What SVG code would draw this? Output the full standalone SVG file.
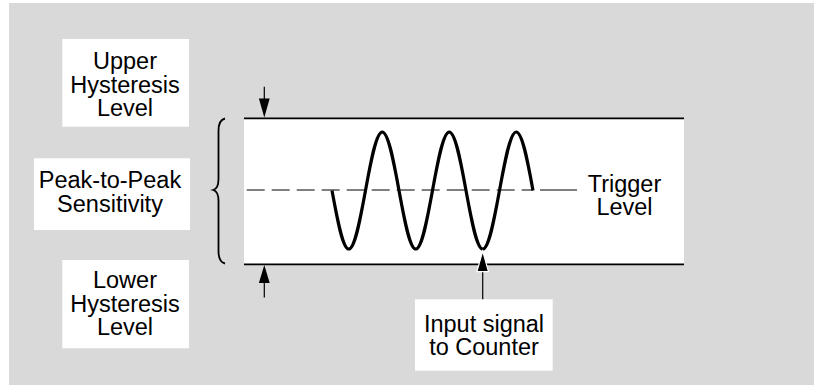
<svg xmlns="http://www.w3.org/2000/svg" width="814" height="385" viewBox="0 0 814 385">
<style>
  .lbl { font-family: "Liberation Sans", Arial, Helvetica, sans-serif; font-size: 23.5px; fill: #000; text-anchor: middle; }
  .box { fill: #fff; stroke: none; }
  .thin { stroke: #000; stroke-width: 1.2; fill: none; }
  .lvl { stroke: #000; stroke-width: 1.7; fill: none; }
  .head { fill: #000; }
</style>
<rect x="0" y="0" width="814" height="385" fill="#fff"/>
<rect x="9" y="3" width="805" height="382" fill="#d9d9d9"/>

<g id="band">
  <rect x="244" y="118.3" width="440" height="146" fill="#fff"/>
  <line class="lvl" x1="244" y1="118.3" x2="684" y2="118.3"/>
  <line class="lvl" x1="244" y1="264.3" x2="684" y2="264.3"/>
  <line x1="246.7" y1="190" x2="533" y2="190" stroke="#000" stroke-width="1" stroke-dasharray="18 7"/>
  <line x1="540" y1="190" x2="577" y2="190" stroke="#000" stroke-width="1"/>
  <path d="M332,190.5 C337.46,220.47 342.69,249 348.75,249 C354.81,249 360.04,220.47 365.5,190.5 C370.96,160.53 376.19,132 382.25,132 C388.31,132 393.54,160.53 399,190.5 C404.46,220.47 409.69,249 415.75,249 C421.81,249 427.04,220.47 432.5,190.5 C437.96,160.53 443.19,132 449.25,132 C455.31,132 460.54,160.53 466,190.5 C471.46,220.47 476.69,249 482.75,249 C488.81,249 494.04,220.47 499.5,190.5 C504.96,160.53 510.19,132 516.25,132 C522.31,132 527.54,160.53 533,190.5" fill="none" stroke="#000" stroke-width="3.2"/>
</g>

<g id="brace">
  <path d="M225,118.5 Q218.5,120 218.5,131 L218.5,179 Q218.5,188.5 213.3,190 Q218.5,191.5 218.5,201 L218.5,251 Q218.5,262 225,263.5" fill="none" stroke="#000" stroke-width="1.8"/>
</g>

<g id="upper-hysteresis">
  <rect class="box" x="62.3" y="39" width="126.7" height="87.7"/>
  <text class="lbl" x="125" y="69.3">Upper</text>
  <text class="lbl" x="125" y="92.8">Hysteresis</text>
  <text class="lbl" x="125" y="116">Level</text>
</g>

<g id="peak-to-peak">
  <rect class="box" x="34" y="158.3" width="156" height="71.7"/>
  <text class="lbl" x="110" y="188.3">Peak-to-Peak</text>
  <text class="lbl" x="110" y="211.7">Sensitivity</text>
</g>

<g id="lower-hysteresis">
  <rect class="box" x="62.3" y="260" width="126.7" height="88.3"/>
  <text class="lbl" x="125" y="288.3">Lower</text>
  <text class="lbl" x="125" y="311.7">Hysteresis</text>
  <text class="lbl" x="125" y="335">Level</text>
</g>

<g id="trigger-level">
  <text class="lbl" x="624.5" y="191.7">Trigger</text>
  <text class="lbl" x="624.5" y="215">Level</text>
</g>

<g id="input-signal">
  <rect class="box" x="415" y="299.3" width="137.7" height="71.4"/>
  <text class="lbl" x="484" y="331.7">Input signal</text>
  <text class="lbl" x="484" y="355">to Counter</text>
</g>

<g id="connectors">
  <line class="thin" x1="264.3" y1="86.7" x2="264.3" y2="100"/>
  <polygon class="head" points="264.3,117.5 258.9,98.5 269.7,98.5"/>
  <line class="thin" x1="264.3" y1="297.5" x2="264.3" y2="282"/>
  <polygon class="head" points="264.3,265 258.9,283 269.7,283"/>
  <line class="thin" x1="482.7" y1="299.3" x2="482.7" y2="270"/>
  <polygon class="head" points="482.7,251.2 476.9,271.7 488.5,271.7" stroke="#fff" stroke-width="1.2" stroke-linejoin="miter"/>
</g>
</svg>
